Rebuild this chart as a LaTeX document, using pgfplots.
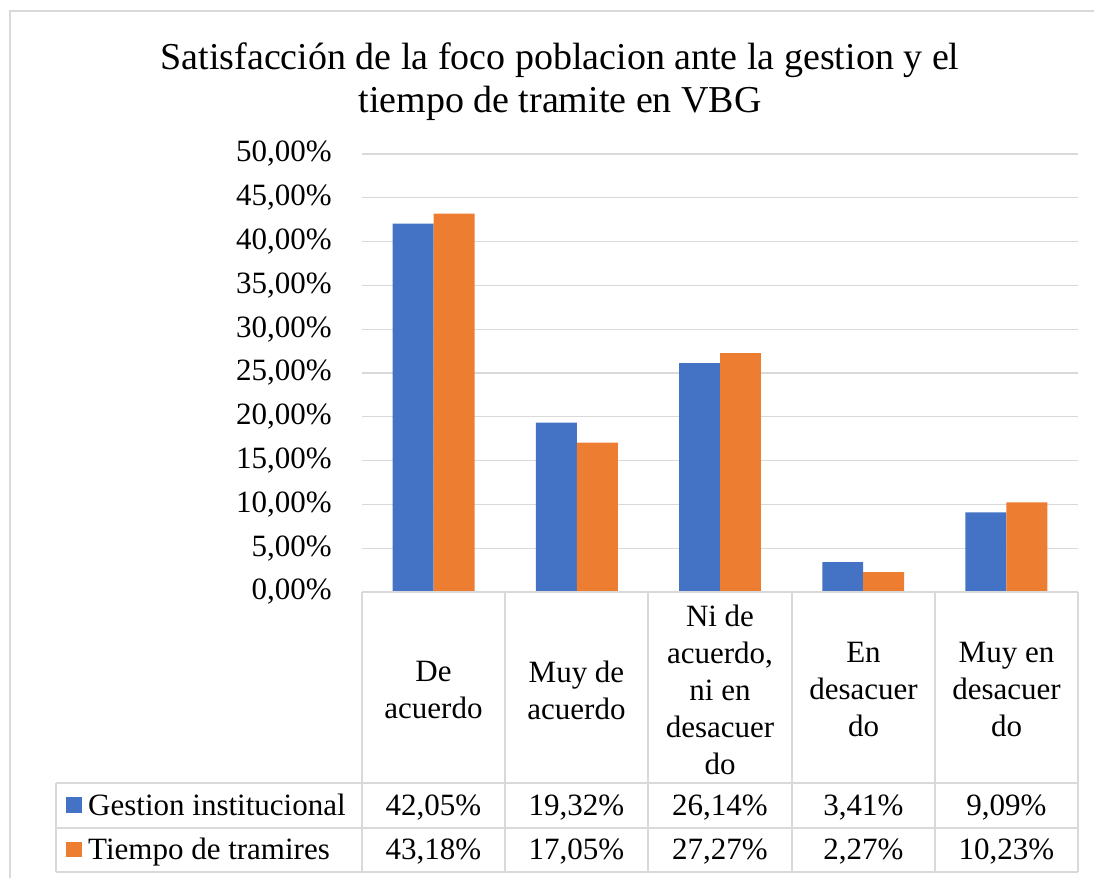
\documentclass[border=0pt]{standalone}
\usepackage{fontspec}
\setmainfont{Liberation Serif}
\usepackage{pgfplots}
\pgfplotsset{compat=1.18}
\definecolor{cblue}{HTML}{4472C4}
\definecolor{corange}{HTML}{ED7D31}
\definecolor{cgrid}{HTML}{D9D9D9}
\newcommand\tf{\fontsize{31bp}{37bp}\selectfont}
\newcommand\ttl{\fontsize{38bp}{44bp}\selectfont}
\begin{document}
\begin{tikzpicture}[x=1bp,y=1bp]
\useasboundingbox (0,0) rectangle (1094,878);
\draw[cgrid, line width=1.5bp] (10,0) -- (10,867) -- (1094,867);
\node[font=\ttl, anchor=base] at (560,808) {Satisfacción de la foco poblacion ante la gestion y el};
\node[font=\ttl, anchor=base] at (560,765) {tiempo de tramite en VBG};
\begin{axis}[at={(362bp,286bp)}, anchor=south west, scale only axis,
  width=716bp, height=438bp,
  xmin=-0.5, xmax=4.5, ymin=0, ymax=50,
  ytick={0,5,...,50},
  yticklabels={{0,00\%},{5,00\%},{10,00\%},{15,00\%},{20,00\%},{25,00\%},{30,00\%},{35,00\%},{40,00\%},{45,00\%},{50,00\%}},
  xtick=\empty,
  ymajorgrids, grid style={cgrid, line width=1.3bp},
  axis line style={draw=none},
  major tick length=0pt,
  yticklabel style={font=\tf, anchor=east, inner sep=0pt, xshift=-30bp},
  ybar=0pt, bar width=0.286, clip=false]
\addplot[fill=cblue, draw=none, bar shift=-0.143] coordinates {(0,42.05) (1,19.32) (2,26.14) (3,3.41) (4,9.09)};
\addplot[fill=corange, draw=none, bar shift=0.143] coordinates {(0,43.18) (1,17.05) (2,27.27) (3,2.27) (4,10.23)};
\end{axis}
% data table
\begin{scope}[cgrid, line width=1.5bp]
\draw (362,286) -- (1078,286);
\draw (56,95) -- (1078,95);
\draw (56,50) -- (1078,50);
\draw (56,6) -- (1078,6);
\draw (56,95) -- (56,6);
\foreach \x in {362,505,648,792,935,1078} {\draw (\x,286) -- (\x,6);}
\end{scope}
\fill[cblue] (66,65) rectangle (82,81);
\fill[corange] (66,21) rectangle (82,36);
\node[font=\tf, anchor=base west, inner sep=0pt] at (88,62) {Gestion institucional};
\node[font=\tf, anchor=base west, inner sep=0pt] at (88,18) {Tiempo de tramires};
\foreach \x/\l in {433.5/{De\\acuerdo}, 576.5/{Muy de\\acuerdo}, 720/{Ni de\\acuerdo,\\ni en\\desacuer\\do}, 863.5/{En\\desacuer\\do}, 1006.5/{Muy en\\desacuer\\do}}
  {\node[font=\tf, align=center, inner sep=0pt] at (\x,188) {\l};}
\foreach \x/\a/\b in {433.5/{42,05}/{43,18}, 576.5/{19,32}/{17,05}, 720/{26,14}/{27,27}, 863.5/{3,41}/{2,27}, 1006.5/{9,09}/{10,23}}
  {\node[font=\tf, anchor=base, inner sep=0pt] at (\x,62) {\a\%};
   \node[font=\tf, anchor=base, inner sep=0pt] at (\x,18) {\b\%};}
\end{tikzpicture}
\end{document}
